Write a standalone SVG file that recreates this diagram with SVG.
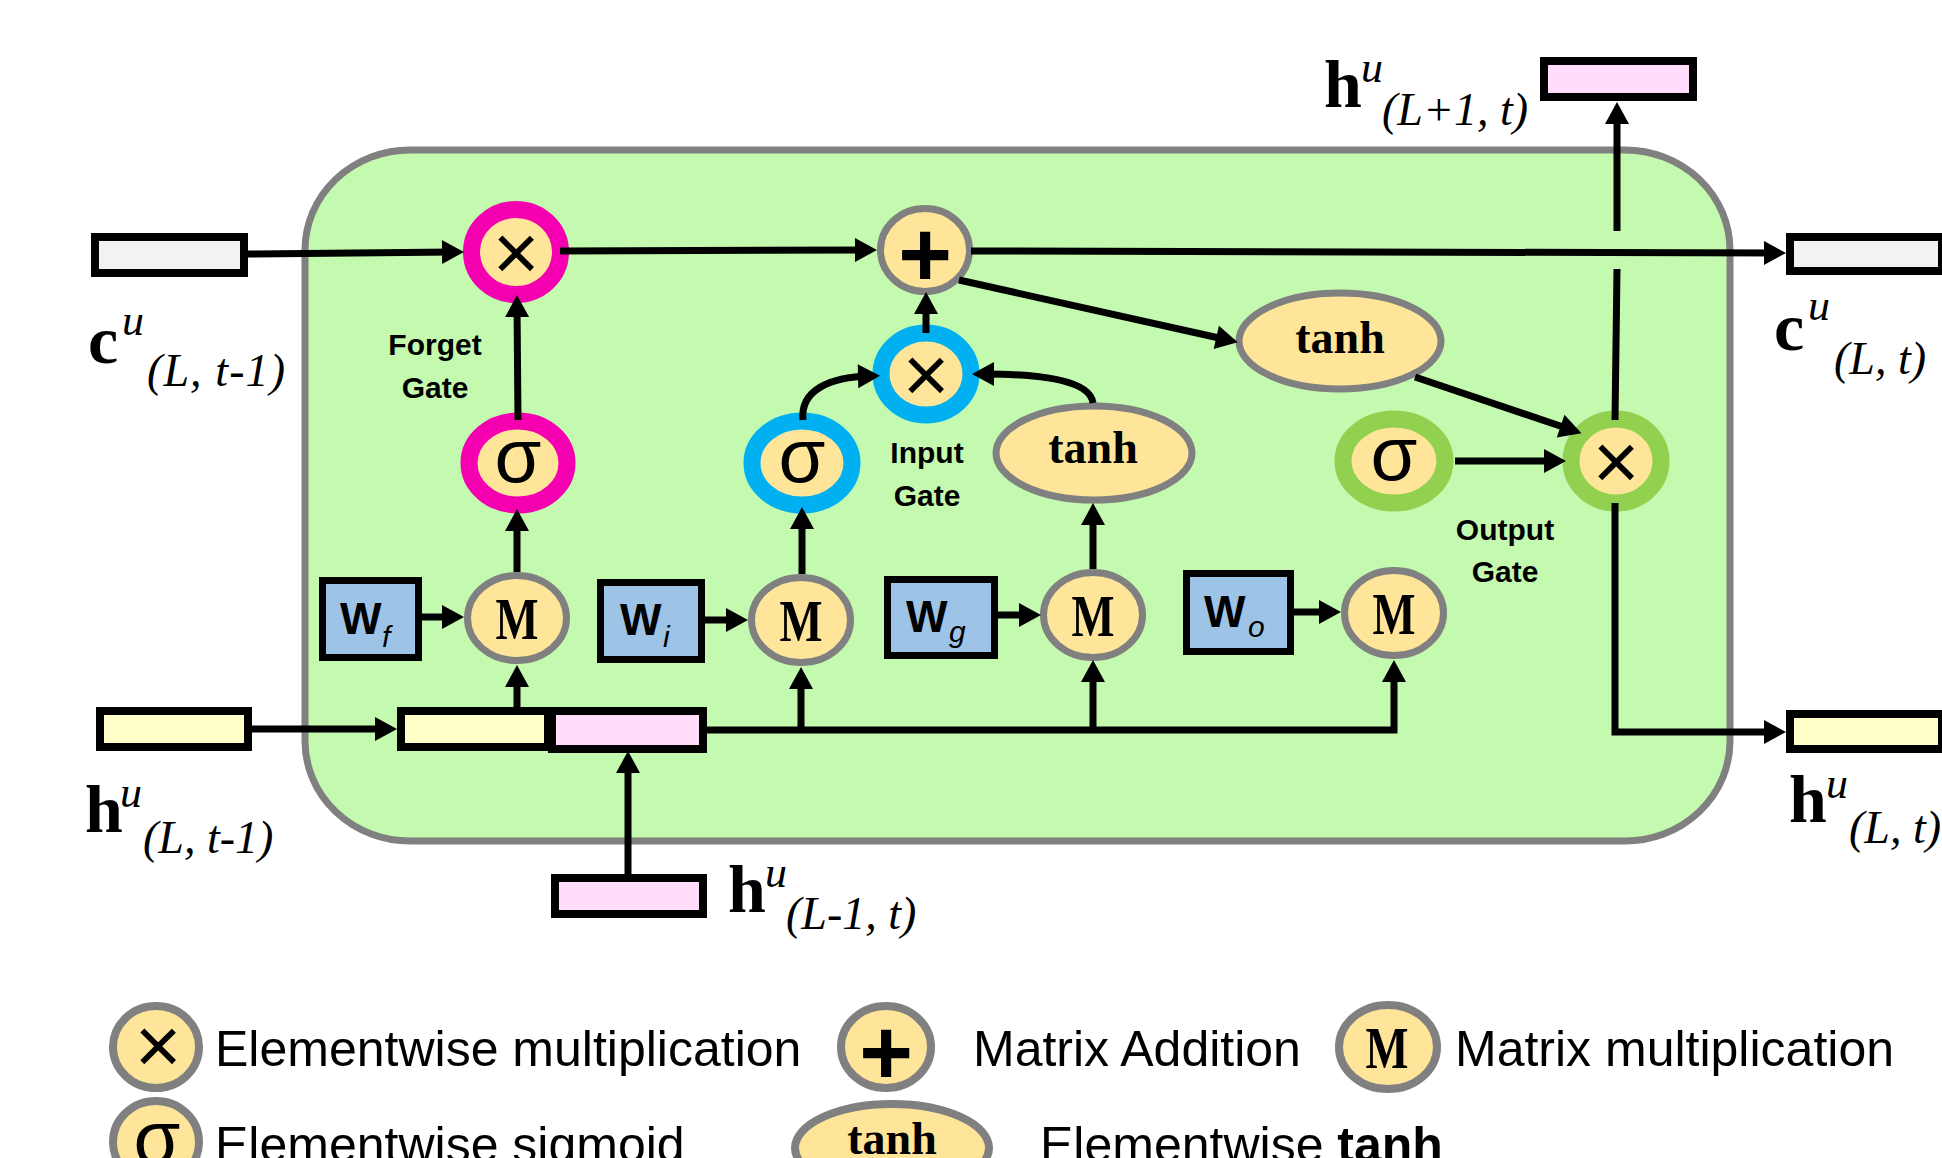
<svg xmlns="http://www.w3.org/2000/svg" width="1942" height="1158" viewBox="0 0 1942 1158">
<style>
.bg{fill:#C3FAAF;stroke:#808080;stroke-width:7}
.box{stroke:#000;stroke-width:8}
.gray{fill:#F2F2F2}.yel{fill:#FFFFC7}.pink{fill:#FFDDFB}
.wbox{fill:#9DC3E6;stroke:#000;stroke-width:7}
.op{fill:#FFE599;stroke:#808080;stroke-width:7}
.lg{fill:#FFE599;stroke:#808080;stroke-width:8}
.rf{fill:#FFE599;stroke:#F400B0;stroke-width:17}
.ri{fill:#FFE599;stroke:#00B0F0;stroke-width:17}
.ro{fill:#FFE599;stroke:#92D050;stroke-width:17}
.conn{fill:none;stroke:#000;stroke-width:7}
.sym{font-family:"Liberation Sans",Arial,sans-serif;text-anchor:middle;dominant-baseline:central;fill:#000}
.mul{font-size:80px}
.plus{font-size:92px;font-weight:bold}
.sig{font-size:76px}
.mm{font-family:"Liberation Serif","Times New Roman",serif;font-size:60px;font-weight:bold;text-anchor:middle;fill:#000}
.tanh{font-family:"Liberation Serif","Times New Roman",serif;font-size:46px;font-weight:bold;text-anchor:middle;fill:#000}
.gate{font-family:"Liberation Sans",Arial,sans-serif;font-size:30px;font-weight:bold;text-anchor:middle;fill:#000}
.w{font-family:"Liberation Sans",Arial,sans-serif;font-size:44px;font-weight:bold;fill:#000}
.ws{font-family:"Liberation Sans",Arial,sans-serif;font-size:30px;font-style:italic;fill:#000}
.mb{font-family:"Liberation Serif","Times New Roman",serif;font-size:68px;font-weight:bold;fill:#000}
.mu{font-family:"Liberation Serif","Times New Roman",serif;font-size:44px;font-style:italic;fill:#000}
.msub{font-family:"Liberation Serif","Times New Roman",serif;font-size:46px;font-style:italic;fill:#000}
.leg{font-family:"Liberation Sans",Arial,sans-serif;font-size:50px;fill:#000}
</style>
<defs>
<marker id="ah" markerUnits="userSpaceOnUse" markerWidth="22" markerHeight="24" refX="12" refY="12" orient="auto" overflow="visible">
<path d="M0,0L22,12L0,24z" fill="#000"/>
</marker>
</defs>

<g id="cell">
<rect class="bg" x="305" y="150" width="1425" height="691" rx="105" ry="100"/>
</g>

<g id="c_prev"><rect class="box gray" x="95" y="237" width="149" height="36"/></g>
<g id="c_next"><rect class="box gray" x="1790" y="237" width="152" height="34"/></g>
<g id="h_up"><rect class="box pink" x="1544" y="61" width="149" height="36"/></g>
<g id="h_prev"><rect class="box yel" x="100" y="711" width="148" height="36"/></g>
<g id="concat">
<rect class="box yel" x="401" y="711" width="147" height="36"/>
<rect class="box pink" x="552" y="711" width="151" height="38"/>
</g>
<g id="h_low"><rect class="box pink" x="555" y="878" width="148" height="36"/></g>
<g id="h_next"><rect class="box yel" x="1790" y="714" width="152" height="35"/></g>

<g id="Wf"><rect class="wbox" x="322.5" y="580.5" width="96" height="77"/><text class="w" x="340" y="634">W</text><text class="ws" x="382" y="647">f</text></g>
<g id="Wi"><rect class="wbox" x="600.5" y="582.5" width="101" height="77"/><text class="w" x="620" y="635">W</text><text class="ws" x="663" y="647">i</text></g>
<g id="Wg"><rect class="wbox" x="887.5" y="579.5" width="107" height="76"/><text class="w" x="906" y="632">W</text><text class="ws" x="949" y="642">g</text></g>
<g id="Wo"><rect class="wbox" x="1186.5" y="573.5" width="104" height="78"/><text class="w" x="1204" y="627">W</text><text class="ws" x="1248" y="637">o</text></g>

<g id="Mf"><ellipse class="op" cx="517" cy="618" rx="49.5" ry="42.5"/><text class="mm" x="517" y="639" textLength="43" lengthAdjust="spacingAndGlyphs">M</text></g>
<g id="Mi"><ellipse class="op" cx="801" cy="620" rx="49.5" ry="42.5"/><text class="mm" x="801" y="641" textLength="43" lengthAdjust="spacingAndGlyphs">M</text></g>
<g id="Mg"><ellipse class="op" cx="1093" cy="615" rx="49.5" ry="42.5"/><text class="mm" x="1093" y="636" textLength="43" lengthAdjust="spacingAndGlyphs">M</text></g>
<g id="Mo"><ellipse class="op" cx="1394" cy="613" rx="49.5" ry="42.5"/><text class="mm" x="1394" y="634" textLength="43" lengthAdjust="spacingAndGlyphs">M</text></g>

<g id="sig_f"><ellipse class="rf" cx="518" cy="463" rx="49" ry="42"/><text class="sym sig" x="518" y="455">σ</text></g>
<g id="mul_f"><ellipse class="rf" cx="516" cy="252" rx="44.5" ry="42.5"/><text class="sym mul" x="516" y="252">×</text></g>
<g id="sig_i"><ellipse class="ri" cx="802" cy="463" rx="50" ry="42"/><text class="sym sig" x="802" y="455">σ</text></g>
<g id="mul_i"><ellipse class="ri" cx="926" cy="374" rx="45" ry="41"/><text class="sym mul" x="926" y="374">×</text></g>
<g id="add"><ellipse class="op" cx="925" cy="250" rx="44.5" ry="41.5"/><text class="sym plus" x="925" y="254">+</text></g>
<g id="tanh_c"><ellipse class="op" cx="1340" cy="341" rx="101" ry="48"/><text class="tanh" x="1340" y="353">tanh</text></g>
<g id="tanh_g"><ellipse class="op" cx="1094" cy="453" rx="98" ry="47"/><text class="tanh" x="1093" y="463">tanh</text></g>
<g id="sig_o"><ellipse class="ro" cx="1394" cy="461" rx="51" ry="42"/><text class="sym sig" x="1394" y="453">σ</text></g>
<g id="mul_o"><ellipse class="ro" cx="1616" cy="461" rx="45" ry="42"/><text class="sym mul" x="1616" y="461">×</text></g>

<g id="connectors" class="conn" marker-end="url(#ah)">
<path d="M248,254 L454,252"/>
<path d="M560,251 L867,250"/>
<path d="M971,251 L1776,253"/>
<path d="M959,280 L1228,340"/>
<path d="M1415,377 L1572,430"/>
<path d="M1455,461 L1556,461"/>
<path d="M1615,420 L1617,269 M1617,231 L1617,112"/>
<path d="M1615,503 L1615,732 L1776,732"/>
<path d="M518,420 L517,305"/>
<path d="M517,572 L517,519"/>
<path d="M517,707 L517,675"/>
<path d="M422,617 L454,617"/>
<path d="M705,620 L738,620"/>
<path d="M802,574 L802,517"/>
<path d="M803,420 C800,390 830,377 870,376"/>
<path d="M1093,403 C1090,380 1040,374 982,374"/>
<path d="M926,333 L926,302"/>
<path d="M1093,569 L1093,513"/>
<path d="M998,615 L1031,615"/>
<path d="M1294,612 L1331,612"/>
<path d="M707,730 L1394,730 L1394,670"/>
<path d="M801,730 L801,677"/>
<path d="M1093,730 L1093,670"/>
<path d="M252,729 L387,729"/>
<path d="M628,874 L628,761"/>
</g>

<g id="labels">
<text class="gate" x="435" y="355">Forget</text>
<text class="gate" x="435" y="398">Gate</text>
<text class="gate" x="927" y="463">Input</text>
<text class="gate" x="927" y="506">Gate</text>
<text class="gate" x="1505" y="540">Output</text>
<text class="gate" x="1505" y="582">Gate</text>

<text class="mb" x="88" y="363">c</text><text class="mu" x="122" y="335">u</text><text class="msub" x="147" y="386" textLength="138">(L, t-1)</text>
<text class="mb" x="1774" y="350">c</text><text class="mu" x="1808" y="320">u</text><text class="msub" x="1834" y="374">(L, t)</text>
<text class="mb" x="1324" y="107">h</text><text class="mu" x="1361" y="82">u</text><text class="msub" x="1382" y="125">(L+1, t)</text>
<text class="mb" x="85" y="832">h</text><text class="mu" x="120" y="807">u</text><text class="msub" x="143" y="853">(L, t-1)</text>
<text class="mb" x="728" y="912">h</text><text class="mu" x="765" y="887">u</text><text class="msub" x="786" y="929">(L-1, t)</text>
<text class="mb" x="1789" y="822">h</text><text class="mu" x="1826" y="798">u</text><text class="msub" x="1849" y="843">(L, t)</text>
</g>

<g id="legend">
<g id="leg_mul"><ellipse class="lg" cx="156" cy="1047" rx="43" ry="41"/><text class="sym mul" x="158" y="1045">×</text><text class="leg" x="215" y="1066">Elementwise multiplication</text></g>
<g id="leg_add"><ellipse class="lg" cx="886" cy="1047" rx="45" ry="41"/><text class="sym plus" x="886" y="1052">+</text><text class="leg" x="973" y="1066">Matrix Addition</text></g>
<g id="leg_mm"><ellipse class="lg" cx="1388" cy="1047" rx="49" ry="42"/><text class="mm" x="1387" y="1068" textLength="43" lengthAdjust="spacingAndGlyphs">M</text><text class="leg" x="1455" y="1066">Matrix multiplication</text></g>
<g id="leg_sig"><ellipse class="lg" cx="156" cy="1142" rx="43" ry="41"/><text class="sym sig" x="157" y="1137">σ</text><text class="leg" x="215" y="1162">Elementwise sigmoid</text></g>
<g id="leg_tanh"><ellipse class="lg" cx="892" cy="1148" rx="97" ry="44"/><text class="tanh" x="892" y="1154">tanh</text><text class="leg" x="1040" y="1162">Elementwise <tspan font-weight="bold">tanh</tspan></text></g>
</g>
</svg>
